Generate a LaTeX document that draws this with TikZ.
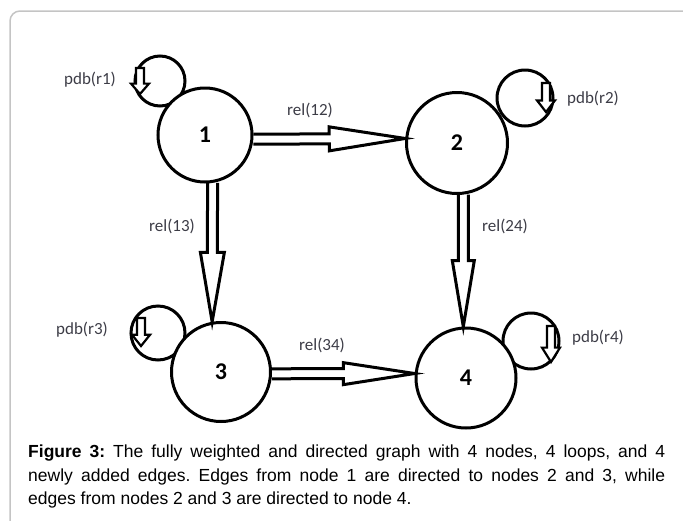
\documentclass[tikz,border=0pt]{standalone}
\usepackage{fontspec}
\setmainfont{Liberation Sans}
\newfontfamily\calib{Carlito}[BoldFont=Carlito Bold]
\usetikzlibrary{calc}
\definecolor{lblc}{HTML}{3C3C46}
\definecolor{framec}{HTML}{C4C4C4}
\newcommand{\blockarr}[6]{% style, start, end, shaft half, head half, head fraction
  \draw[#1] let \p1=(#2), \p2=(#3),
    \n1={veclen(\x2-\x1,\y2-\y1)}, \n2={atan2(\y2-\y1,\x2-\x1)},
    \n3={(1-#6)*\n1} in
    ([shift={(\p1)},rotate=\n2]0,#4)
    -- ([shift={(\p1)},rotate=\n2]\n3,#4)
    -- ([shift={(\p1)},rotate=\n2]\n3,#5)
    -- ([shift={(\p1)},rotate=\n2]\n1,0)
    -- ([shift={(\p1)},rotate=\n2]\n3,-#5)
    -- ([shift={(\p1)},rotate=\n2]\n3,-#4)
    -- ([shift={(\p1)},rotate=\n2]0,-#4);
}
\newcommand{\smallarr}[2]{%
  \draw[smallblk] let \p1=(#1), \p2=(#2),
    \n1={veclen(\x2-\x1,\y2-\y1)}, \n2={atan2(\y2-\y1,\x2-\x1)},
    \n3={0.6*\n1} in
    ([shift={(\p1)},rotate=\n2]0,4)
    -- ([shift={(\p1)},rotate=\n2]\n3,4)
    -- ([shift={(\p1)},rotate=\n2]\n3,9)
    -- ([shift={(\p1)},rotate=\n2]\n1,0)
    -- ([shift={(\p1)},rotate=\n2]\n3,-9)
    -- ([shift={(\p1)},rotate=\n2]\n3,-4)
    -- ([shift={(\p1)},rotate=\n2]0,-4) -- cycle;
}
\tikzset{
  vtx/.style={circle, draw, line width=3pt, inner sep=0pt,
    font=\calib\bfseries\fontsize{24}{24}\selectfont},
  blk/.style={draw, line width=3pt},
  smallblk/.style={draw, fill=white, line width=2.2pt},
  loopc/.style={draw, line width=3pt},
  lbl/.style={text=lblc, font=\calib\fontsize{17}{17}\selectfont},
}
\begin{document}
\begin{tikzpicture}[x=1pt,y=-1pt]
\useasboundingbox (0,0) rectangle (683,520);
\draw[framec, line width=1.5pt, rounded corners=10pt] (690,11) -- (10,11) -- (10,530);

% loops (behind nodes)
\draw[loopc] (160,81) circle (25pt);
\draw[loopc] (525,98) circle (28pt);
\draw[loopc] (158,333) circle (27pt);
\draw[loopc] (531,341) circle (28pt);

\node[vtx, minimum size=94pt, fill=white] (n1) at (205,135) {1};
\node[vtx, minimum size=101pt, fill=white] (n2) at (457,143) {2};
\node[vtx, minimum size=99pt, fill=white] (n3) at (221,372) {3};
\node[vtx, minimum size=100pt, fill=white] (n4) at (466,378) {4};

\blockarr{blk}{n1.-5}{n2.175}{5}{12}{0.5}
\blockarr{blk}{n1.-81}{n3.100}{5}{12}{0.5}
\blockarr{blk}{n2.-83}{n4.93}{5}{11}{0.5}
\blockarr{blk}{n3.-2}{n4.175}{5}{11}{0.5}

\coordinate (l1a) at (140,68);  \coordinate (l1b) at (140,94);
\coordinate (l2a) at (546,83);  \coordinate (l2b) at (546,112);
\coordinate (l3a) at (141,318); \coordinate (l3b) at (141,346);
\coordinate (l4a) at (551,326); \coordinate (l4b) at (551,362);
\smallarr{l1a}{l1b}
\smallarr{l2a}{l2b}
\smallarr{l3a}{l3b}
\smallarr{l4a}{l4b}

\node[lbl] (p1) at (90,80) {pdb(r1)};
\node[lbl] (p2) at (593,99) {pdb(r2)};
\node[lbl] (p3) at (82,330) {pdb(r3)};
\node[lbl] (p4) at (598,338) {pdb(r4)};
\node[lbl] (r12) at (310,110) {rel(12)};
\node[lbl] (r13) at (172,226) {rel(13)};
\node[lbl] (r24) at (505,226) {rel(24)};
\node[lbl] (r34) at (322,345) {rel(34)};

\node[anchor=north west, inner sep=0pt, text width=637pt, align=justify,
  font=\fontsize{17.5}{23.5}\selectfont\frenchspacing] (cap) at (28,445)
  {\textbf{Figure 3:} The fully weighted and directed graph with 4 nodes, 4 loops, and 4\linebreak
   newly added edges. Edges from node 1 are directed to nodes 2 and 3, while\linebreak
   edges from nodes 2 and 3 are directed to node 4.};
\end{tikzpicture}
\end{document}
